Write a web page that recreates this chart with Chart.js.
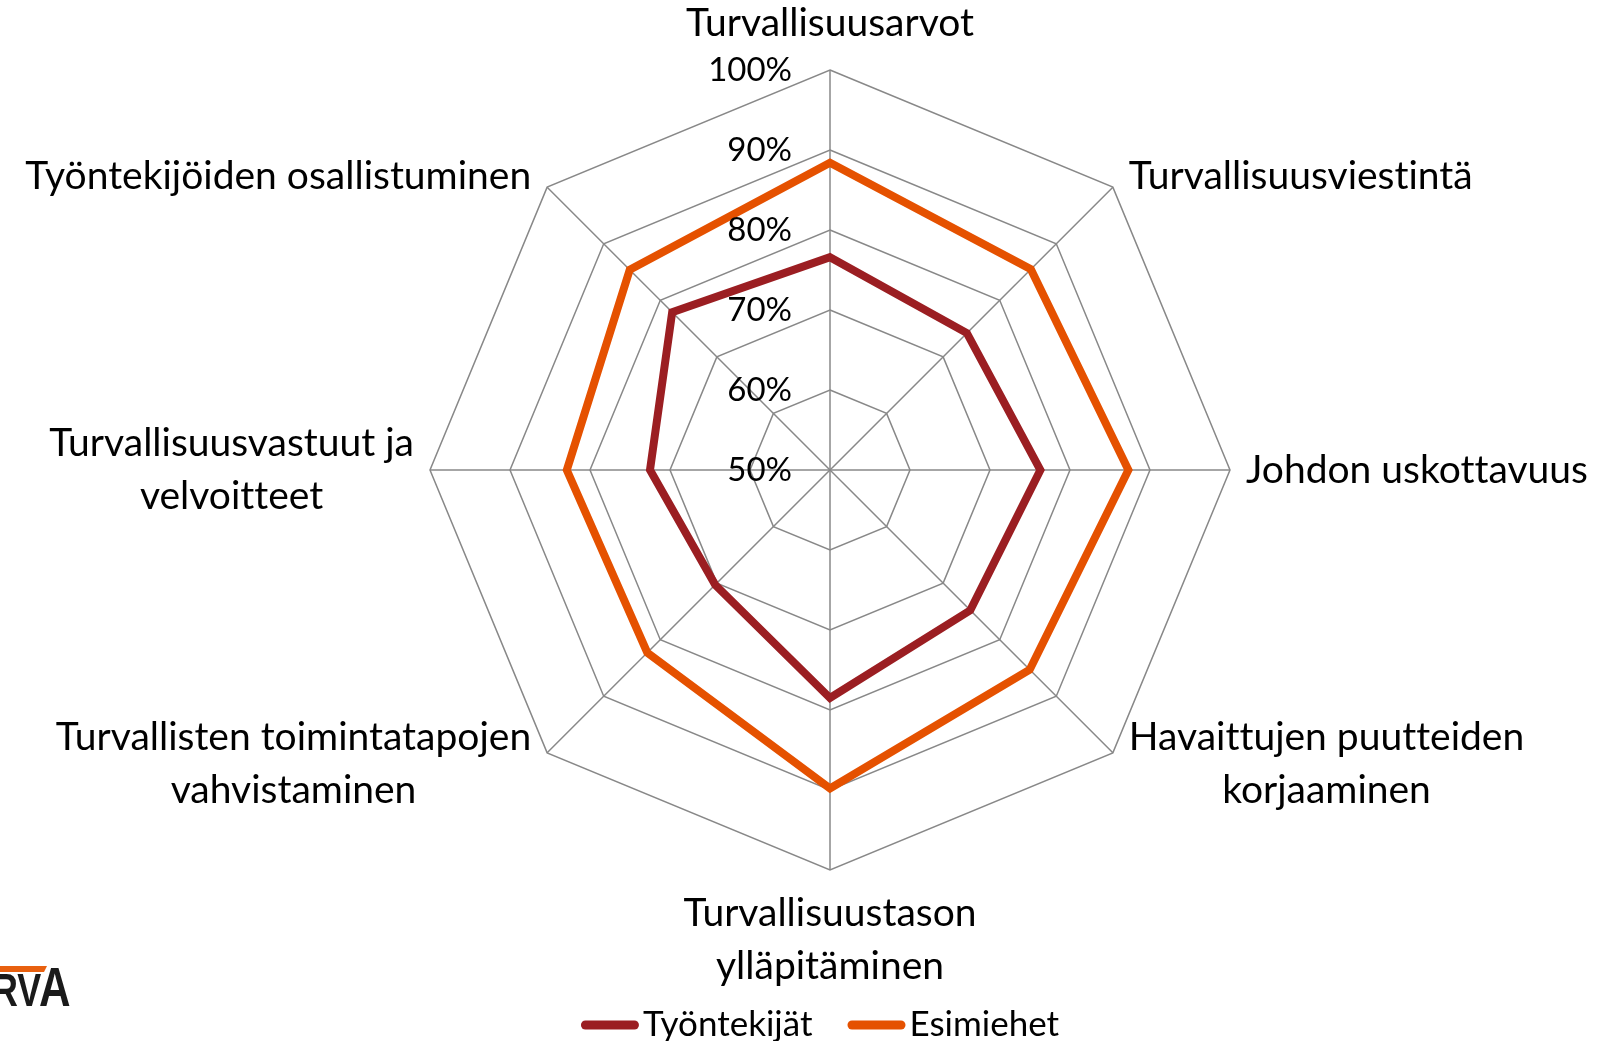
<!DOCTYPE html>
<html lang="fi">
<head>
<meta charset="UTF-8">
<title>Turvallisuuskulttuuri</title>
<script src="https://cdn.jsdelivr.net/npm/chart.js@4.4.1/dist/chart.umd.min.js"></script>
<style>
    html, body { margin: 0; padding: 0; background: #fff; }
    .chart-wrap { position: relative; width: 1602px; height: 1041px; }
    canvas { font-variant-ligatures: none; }
</style>
</head>
<body>
<div class="chart-wrap"><canvas id="radar"></canvas></div>
<script>
// categories (multi-line labels), clockwise from the top
const categories = [
    ['Turvallisuusarvot'],
    ['Turvallisuusviestintä'],
    ['Johdon uskottavuus'],
    ['Havaittujen puutteiden', 'korjaaminen'],
    ['Turvallisuustason', 'ylläpitäminen'],
    ['Turvallisten toimintatapojen', 'vahvistaminen'],
    ['Turvallisuusvastuut ja', 'velvoitteet'],
    ['Työntekijöiden osallistuminen']
];
const tyontekijat = [76.6, 74.2, 76.3, 74.8, 78.5, 70.3, 72.5, 77.9];
const esimiehet = [88.4, 85.5, 87.3, 85.3, 89.8, 82.3, 82.9, 85.4];
const seriesNames = ['Työntekijät', 'Esimiehet'];
const seriesColors = ['#9b1e22', '#e55100'];
const tickMin = 50, tickMax = 100, tickStep = 10;

const LABEL_FONT = '39px Lato';
const TICK_FONT = '33px Lato';
const LEGEND_FONT = '35px Lato';
const LINE_H = 53;
const GRID = '#888888';

// Excel-style category labels, tick labels, legend and logo
const excelExtras = {
    id: 'excelExtras',
    afterDraw(chart) {
        const scale = chart.scales.r;
        const ctx = chart.ctx;
        ctx.save();
        ctx.textRendering = 'optimizeSpeed'; // no "ti" ligature
        ctx.fillStyle = '#000';
        ctx.textBaseline = 'middle';

        // tick labels, left of the vertical axis
        ctx.font = TICK_FONT;
        ctx.textAlign = 'right';
        scale.ticks.forEach(t => {
            const y = scale.yCenter - scale.getDistanceFromCenterForValue(t.value);
            ctx.fillText(t.value + '%', scale.xCenter - 38, y);
        });

        // category labels
        ctx.font = LABEL_FONT;
        ctx.textAlign = 'center';
        categories.forEach((lines, i) => {
            const p = scale.getPointPosition(i, scale.drawingArea);
            const dx = Math.round(p.x - scale.xCenter);
            const dy = Math.round(p.y - scale.yCenter);
            const w = Math.max(...lines.map(l => ctx.measureText(l).width));
            const h = lines.length * LINE_H;
            let cx, top;
            if (dx === 0) {
                cx = p.x;
                top = dy < 0 ? p.y - 20 - h : p.y + 17;
            } else {
                cx = dx > 0 ? p.x + 16 + w / 2 : p.x - 16 - w / 2;
                top = p.y + Math.sign(dy) * 11 - h / 2;
            }
            lines.forEach((l, k) => ctx.fillText(l, cx, top + LINE_H * (k + 0.5)));
        });

        // legend
        ctx.font = LEGEND_FONT;
        const legendY = 1025, legendCx = 820, sample = 58, gap = 35;
        const items = seriesNames.map(n => sample + 4 + ctx.measureText(n).width);
        let x = legendCx - (items.reduce((a, b) => a + b, 0) + gap * (items.length - 1)) / 2;
        ctx.textAlign = 'left';
        ctx.lineCap = 'round';
        ctx.lineWidth = 9;
        seriesNames.forEach((n, i) => {
            ctx.strokeStyle = seriesColors[i];
            ctx.beginPath();
            ctx.moveTo(x + 4.5, legendY);
            ctx.lineTo(x + sample - 4.5, legendY);
            ctx.stroke();
            ctx.fillText(n, x + sample + 4, legendY);
            x += items[i] + gap;
        });

        // cropped logo in the corner
        ctx.fillStyle = '#e8600f';
        ctx.beginPath();
        ctx.moveTo(0, 966); ctx.lineTo(47, 966); ctx.lineTo(44, 972); ctx.lineTo(0, 972);
        ctx.closePath();
        ctx.fill();
        ctx.fillStyle = '#1a1a1a';
        ctx.textBaseline = 'alphabetic';
        ctx.save();
        ctx.translate(-8, 1006);
        ctx.scale(0.78, 1);
        ctx.font = 'bold 46px "Liberation Sans"';
        ctx.fillText('RV', 0, 0);
        ctx.restore();
        ctx.save();
        ctx.translate(39, 1006);
        ctx.scale(0.78, 1);
        ctx.font = 'bold 56px "Liberation Sans"';
        ctx.fillText('A', 0, 0);
        ctx.restore();

        ctx.restore();
    }
};

new Chart(document.getElementById('radar'), {
    type: 'radar',
    data: {
        labels: categories,
        datasets: [
            { label: seriesNames[0], data: tyontekijat, borderColor: seriesColors[0] },
            { label: seriesNames[1], data: esimiehet, borderColor: seriesColors[1] }
        ].map(d => Object.assign(d, {
            fill: false,
            borderWidth: 8,
            pointRadius: 0,
            pointHoverRadius: 0,
            tension: 0
        }))
    },
    options: {
        responsive: true,
        maintainAspectRatio: false,
        animation: false,
        layout: { padding: { left: 430, right: 372, top: 70, bottom: 171 } },
        plugins: {
            legend: { display: false },
            tooltip: { enabled: false }
        },
        scales: {
            r: {
                min: tickMin,
                max: tickMax,
                ticks: { display: false, stepSize: tickStep },
                grid: { color: GRID, lineWidth: 1.5 },
                angleLines: { color: GRID, lineWidth: 1.5 },
                pointLabels: { display: false }
            }
        }
    },
    plugins: [excelExtras]
});
</script>
</body>
</html>
